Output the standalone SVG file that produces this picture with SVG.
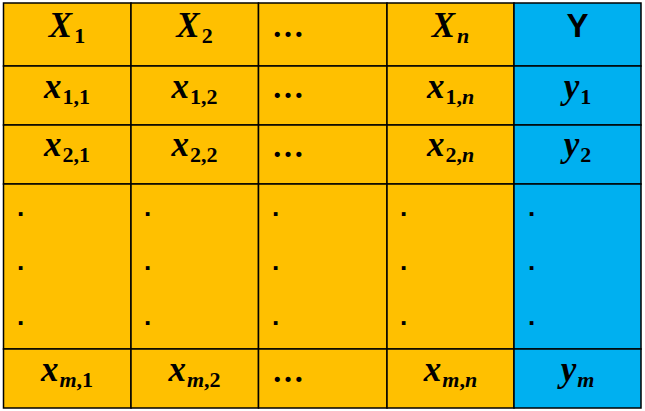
<svg xmlns="http://www.w3.org/2000/svg" width="645" height="411" viewBox="0 0 645 411">
<style>
.o{fill:#FFC000;stroke:#000;stroke-width:1.5}
.b{fill:#00B0F0;stroke:#000;stroke-width:1.5}
.m{font-family:"Liberation Serif",serif;font-weight:bold;font-style:italic;font-size:35px;fill:#000;text-anchor:middle}
.s{font-size:22px;font-style:normal}
.si{font-size:22px}
.e{font-family:"Liberation Serif",serif;font-weight:bold;font-size:32px;fill:#000}
.d{font-family:"Liberation Sans",sans-serif;font-weight:bold;font-size:26px;fill:#000}
.y{font-family:"Liberation Sans",sans-serif;font-weight:bold;font-size:33px;fill:#000;text-anchor:middle}
</style>
<g id="header">
<g id="h1"><rect class="o" x="3.5" y="3" width="127.5" height="63"/><text class="m" x="67" y="37">X<tspan class="s" dx="2" dy="6">1</tspan></text></g>
<g id="h2"><rect class="o" x="131" y="3" width="127.5" height="63"/><text class="m" x="194.5" y="37">X<tspan class="s" dx="2" dy="6">2</tspan></text></g>
<g id="h3"><rect class="o" x="258.5" y="3" width="128.5" height="63"/><text class="e" x="272" y="37">…</text></g>
<g id="h4"><rect class="o" x="387" y="3" width="127" height="63"/><text class="m" x="450.5" y="37">X<tspan class="si" dx="2" dy="6">n</tspan></text></g>
<g id="h5"><rect class="b" x="514" y="3" width="127" height="63"/><text class="y" x="577.5" y="37">Y</text></g>
</g>
<g id="row1">
<g id="r1c1"><rect class="o" x="3.5" y="66" width="127.5" height="59"/><text class="m" x="67" y="98">x<tspan class="s" dx="1" dy="6">1,1</tspan></text></g>
<g id="r1c2"><rect class="o" x="131" y="66" width="127.5" height="59"/><text class="m" x="194.5" y="98">x<tspan class="s" dx="1" dy="6">1,2</tspan></text></g>
<g id="r1c3"><rect class="o" x="258.5" y="66" width="128.5" height="59"/><text class="e" x="272" y="98">…</text></g>
<g id="r1c4"><rect class="o" x="387" y="66" width="127" height="59"/><text class="m" x="450.5" y="98">x<tspan class="s" dx="1" dy="6">1,</tspan><tspan class="si">n</tspan></text></g>
<g id="r1c5"><rect class="b" x="514" y="66" width="127" height="59"/><text class="m" x="577.5" y="98">y<tspan class="s" dx="1" dy="6">1</tspan></text></g>
</g>
<g id="row2">
<g id="r2c1"><rect class="o" x="3.5" y="125" width="127.5" height="59"/><text class="m" x="67" y="156">x<tspan class="s" dx="1" dy="6">2,1</tspan></text></g>
<g id="r2c2"><rect class="o" x="131" y="125" width="127.5" height="59"/><text class="m" x="194.5" y="156">x<tspan class="s" dx="1" dy="6">2,2</tspan></text></g>
<g id="r2c3"><rect class="o" x="258.5" y="125" width="128.5" height="59"/><text class="e" x="272" y="157">…</text></g>
<g id="r2c4"><rect class="o" x="387" y="125" width="127" height="59"/><text class="m" x="450.5" y="156">x<tspan class="s" dx="1" dy="6">2,</tspan><tspan class="si">n</tspan></text></g>
<g id="r2c5"><rect class="b" x="514" y="125" width="127" height="59"/><text class="m" x="577.5" y="156">y<tspan class="s" dx="1" dy="6">2</tspan></text></g>
</g>
<g id="rowdots">
<g id="dc1"><rect class="o" x="3.5" y="184" width="127.5" height="165"/><text class="d" x="17" y="216">.</text><text class="d" x="17" y="270">.</text><text class="d" x="17" y="325">.</text></g>
<g id="dc2"><rect class="o" x="131" y="184" width="127.5" height="165"/><text class="d" x="144" y="216">.</text><text class="d" x="144" y="270">.</text><text class="d" x="144" y="325">.</text></g>
<g id="dc3"><rect class="o" x="258.5" y="184" width="128.5" height="165"/><text class="d" x="272" y="216">.</text><text class="d" x="272" y="270">.</text><text class="d" x="272" y="325">.</text></g>
<g id="dc4"><rect class="o" x="387" y="184" width="127" height="165"/><text class="d" x="400" y="216">.</text><text class="d" x="400" y="270">.</text><text class="d" x="400" y="325">.</text></g>
<g id="dc5"><rect class="b" x="514" y="184" width="127" height="165"/><text class="d" x="528" y="216">.</text><text class="d" x="528" y="270">.</text><text class="d" x="528" y="325">.</text></g>
</g>
<g id="rowm">
<g id="rmc1"><rect class="o" x="3.5" y="349" width="127.5" height="59"/><text class="m" x="67" y="381">x<tspan class="si" dx="1" dy="6">m</tspan><tspan class="s">,1</tspan></text></g>
<g id="rmc2"><rect class="o" x="131" y="349" width="127.5" height="59"/><text class="m" x="194.5" y="381">x<tspan class="si" dx="1" dy="6">m</tspan><tspan class="s">,2</tspan></text></g>
<g id="rmc3"><rect class="o" x="258.5" y="349" width="128.5" height="59"/><text class="e" x="272" y="382">…</text></g>
<g id="rmc4"><rect class="o" x="387" y="349" width="127" height="59"/><text class="m" x="450.5" y="381">x<tspan class="si" dx="1" dy="6">m</tspan><tspan class="s">,</tspan><tspan class="si">n</tspan></text></g>
<g id="rmc5"><rect class="b" x="514" y="349" width="127" height="59"/><text class="m" x="577.5" y="381">y<tspan class="si" dx="1" dy="6">m</tspan></text></g>
</g>
<g id="connectors"></g>
</svg>
